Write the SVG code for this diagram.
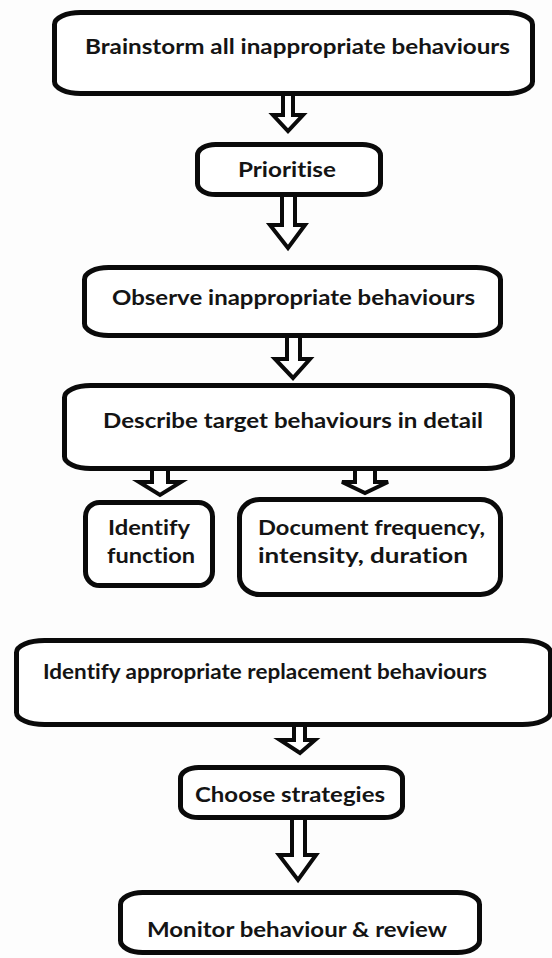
<svg xmlns="http://www.w3.org/2000/svg" width="552" height="958" viewBox="0 0 552 958">
  <defs>
    <style>
      .box { fill: #ffffff; stroke: #0a0a0a; stroke-width: 5; }
      .arrow { fill: #ffffff; stroke: #0a0a0a; stroke-width: 4; stroke-linejoin: miter; }
      .label { font-family: Lato, "Open Sans", "Liberation Sans", sans-serif; font-weight: 700; font-size: 21px; fill: #141414; font-variant-ligatures: none; }
      .mid { text-anchor: middle; }
    </style>
  </defs>
  <rect width="552" height="958" fill="#fdfdfd"/>

  <!-- hollow block arrows between steps -->
  <g id="connectors">
    <path class="arrow" d="M283,94 L293,94 L293,115 L303,115 L288,131 L273,115 L283,115 Z"/>
    <path class="arrow" d="M282,195 L295,195 L295,225 L305,225 L288,248 L270,225 L282,225 Z"/>
    <path class="arrow" d="M287,336 L300,336 L300,359 L310,359 L293,378 L275,359 L287,359 Z"/>
    <path class="arrow" d="M152,469 L168,469 L168,482 L181,482 L160,495 L139,482 L152,482 Z"/>
    <path class="arrow" d="M355,469 L375,469 L375,482 L388,482 L365,493 L342,482 L355,482 Z"/>
    <path class="arrow" d="M294,725 L305,725 L305,740 L315,740 L300,753 L280,740 L294,740 Z"/>
    <path class="arrow" d="M292,818 L305,818 L305,855 L316,855 L298,880 L279,855 L292,855 Z"/>
  </g>

  <g id="brainstorm">
    <rect class="box" x="54.5" y="12.5" width="478" height="81" rx="26" ry="12"/>
    <text class="label mid" x="297.5" y="54" textLength="425" lengthAdjust="spacingAndGlyphs">Brainstorm all inappropriate behaviours</text>
  </g>

  <g id="prioritise">
    <rect class="box" x="197.5" y="144.5" width="183" height="50" rx="18" ry="11"/>
    <text class="label mid" x="287" y="177" textLength="98" lengthAdjust="spacingAndGlyphs">Prioritise</text>
  </g>

  <g id="observe">
    <rect class="box" x="84.5" y="267.5" width="416" height="68" rx="24" ry="12"/>
    <text class="label mid" x="293.5" y="305" textLength="363" lengthAdjust="spacingAndGlyphs">Observe inappropriate behaviours</text>
  </g>

  <g id="describe">
    <rect class="box" x="64.5" y="385.5" width="448" height="83" rx="26" ry="12"/>
    <text class="label mid" x="293" y="428" textLength="380" lengthAdjust="spacingAndGlyphs">Describe target behaviours in detail</text>
  </g>

  <g id="identify-function">
    <rect class="box" x="85.5" y="502.5" width="127" height="83" rx="14" ry="14"/>
    <text class="label mid" x="149" y="535" textLength="82" lengthAdjust="spacingAndGlyphs">Identify</text>
    <text class="label mid" x="151" y="563" textLength="88" lengthAdjust="spacingAndGlyphs">function</text>
  </g>

  <g id="document">
    <rect class="box" x="239.5" y="499.5" width="261" height="95" rx="20" ry="18"/>
    <text class="label" x="258" y="535" textLength="227" lengthAdjust="spacingAndGlyphs">Document frequency,</text>
    <text class="label" x="258" y="563" textLength="210" lengthAdjust="spacingAndGlyphs">intensity, duration</text>
  </g>

  <g id="replacement">
    <rect class="box" x="16.5" y="640.5" width="534" height="84" rx="28" ry="12"/>
    <text class="label mid" x="265" y="679" textLength="444" lengthAdjust="spacingAndGlyphs">Identify appropriate replacement behaviours</text>
  </g>

  <g id="strategies">
    <rect class="box" x="180.5" y="767.5" width="222" height="50" rx="18" ry="11"/>
    <text class="label mid" x="290" y="802" textLength="190" lengthAdjust="spacingAndGlyphs">Choose strategies</text>
  </g>

  <g id="monitor">
    <rect class="box" x="120.5" y="892.5" width="359" height="60" rx="22" ry="12"/>
    <text class="label mid" x="297" y="937" textLength="300" lengthAdjust="spacingAndGlyphs">Monitor behaviour &amp; review</text>
  </g>
</svg>
